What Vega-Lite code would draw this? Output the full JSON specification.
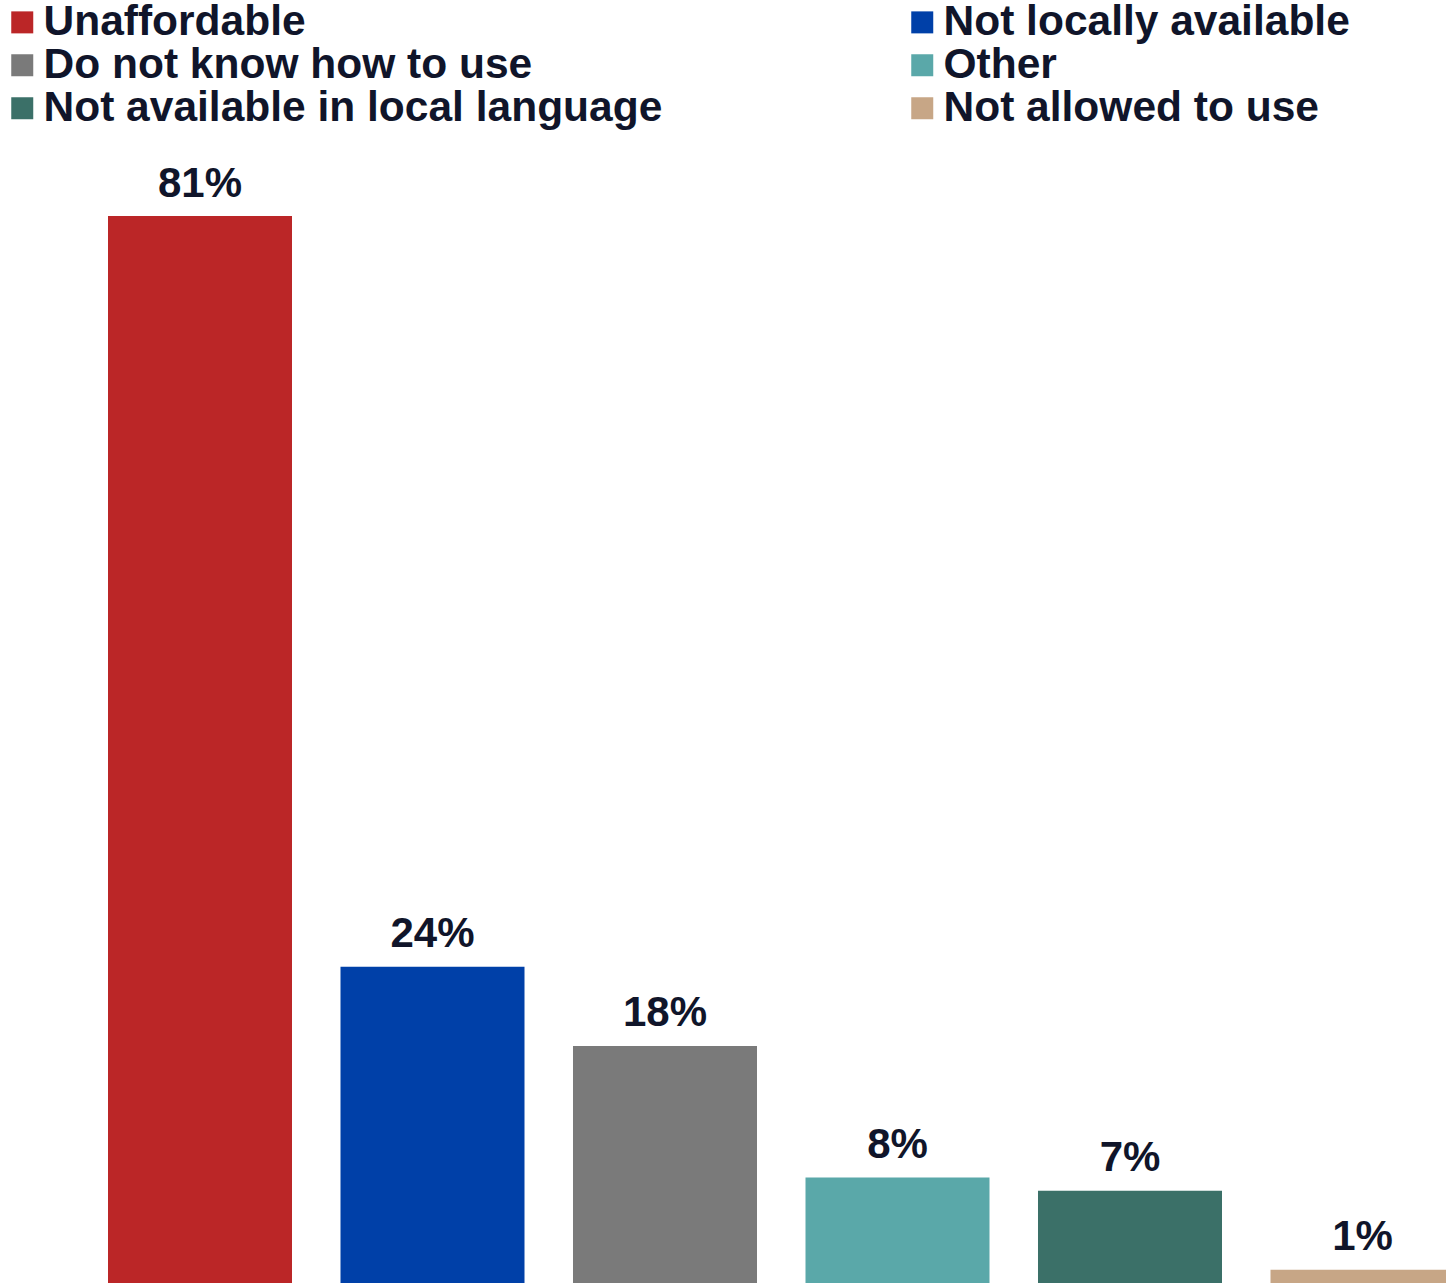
{
  "$schema": "https://vega.github.io/schema/vega-lite/v6.json",
  "width": 1446,
  "height": 1067,
  "autosize": {"type": "none"},
  "padding": {"left": 0, "right": 0, "top": 216, "bottom": 5},
  "background": "white",
  "data": {
    "values": [
      {"reason": "Unaffordable", "value": 81, "label": "81%"},
      {"reason": "Not locally available", "value": 24, "label": "24%"},
      {"reason": "Do not know how to use", "value": 18, "label": "18%"},
      {"reason": "Other", "value": 8, "label": "8%"},
      {"reason": "Not available in local language", "value": 7, "label": "7%"},
      {"reason": "Not allowed to use", "value": 1, "label": "1%"}
    ]
  },
  "encoding": {
    "x": {
      "field": "reason",
      "type": "nominal",
      "sort": null,
      "scale": {"range": [108, 1454.5], "paddingInner": 0.2086, "paddingOuter": 0},
      "axis": null
    },
    "y": {
      "field": "value",
      "type": "quantitative",
      "scale": {"domain": [0, 81], "nice": false},
      "axis": null
    }
  },
  "layer": [
    {
      "mark": {"type": "bar"},
      "encoding": {
        "color": {
          "field": "reason",
          "type": "nominal",
          "scale": {
            "domain": ["Unaffordable", "Do not know how to use", "Not available in local language", "Not locally available", "Other", "Not allowed to use"],
            "range": ["#bb2627", "#7a7a7a", "#3b7068", "#0040a8", "#5aa8a9", "#c7a686"]
          },
          "legend": {
            "title": null,
            "orient": "none",
            "legendX": 1,
            "legendY": -215,
            "columns": 2,
            "columnPadding": 238,
            "rowPadding": 0,
            "symbolType": "square",
            "symbolSize": 484,
            "symbolStrokeWidth": 0,
            "symbolOpacity": 1,
            "labelFontSize": 42.5,
            "labelFont": "Liberation Sans",
            "labelFontWeight": "bold",
            "labelColor": "#10152a",
            "labelOffset": 0,
            "labelLimit": 0,
            "padding": 0
          }
        }
      }
    },
    {
      "mark": {
        "type": "text",
        "dy": -19.5,
        "baseline": "alphabetic",
        "align": "center",
        "fontSize": 42,
        "fontWeight": "bold",
        "font": "Liberation Sans",
        "color": "#10152a"
      },
      "encoding": {
        "text": {"field": "label"}
      }
    }
  ],
  "config": {"view": {"stroke": null}}
}
